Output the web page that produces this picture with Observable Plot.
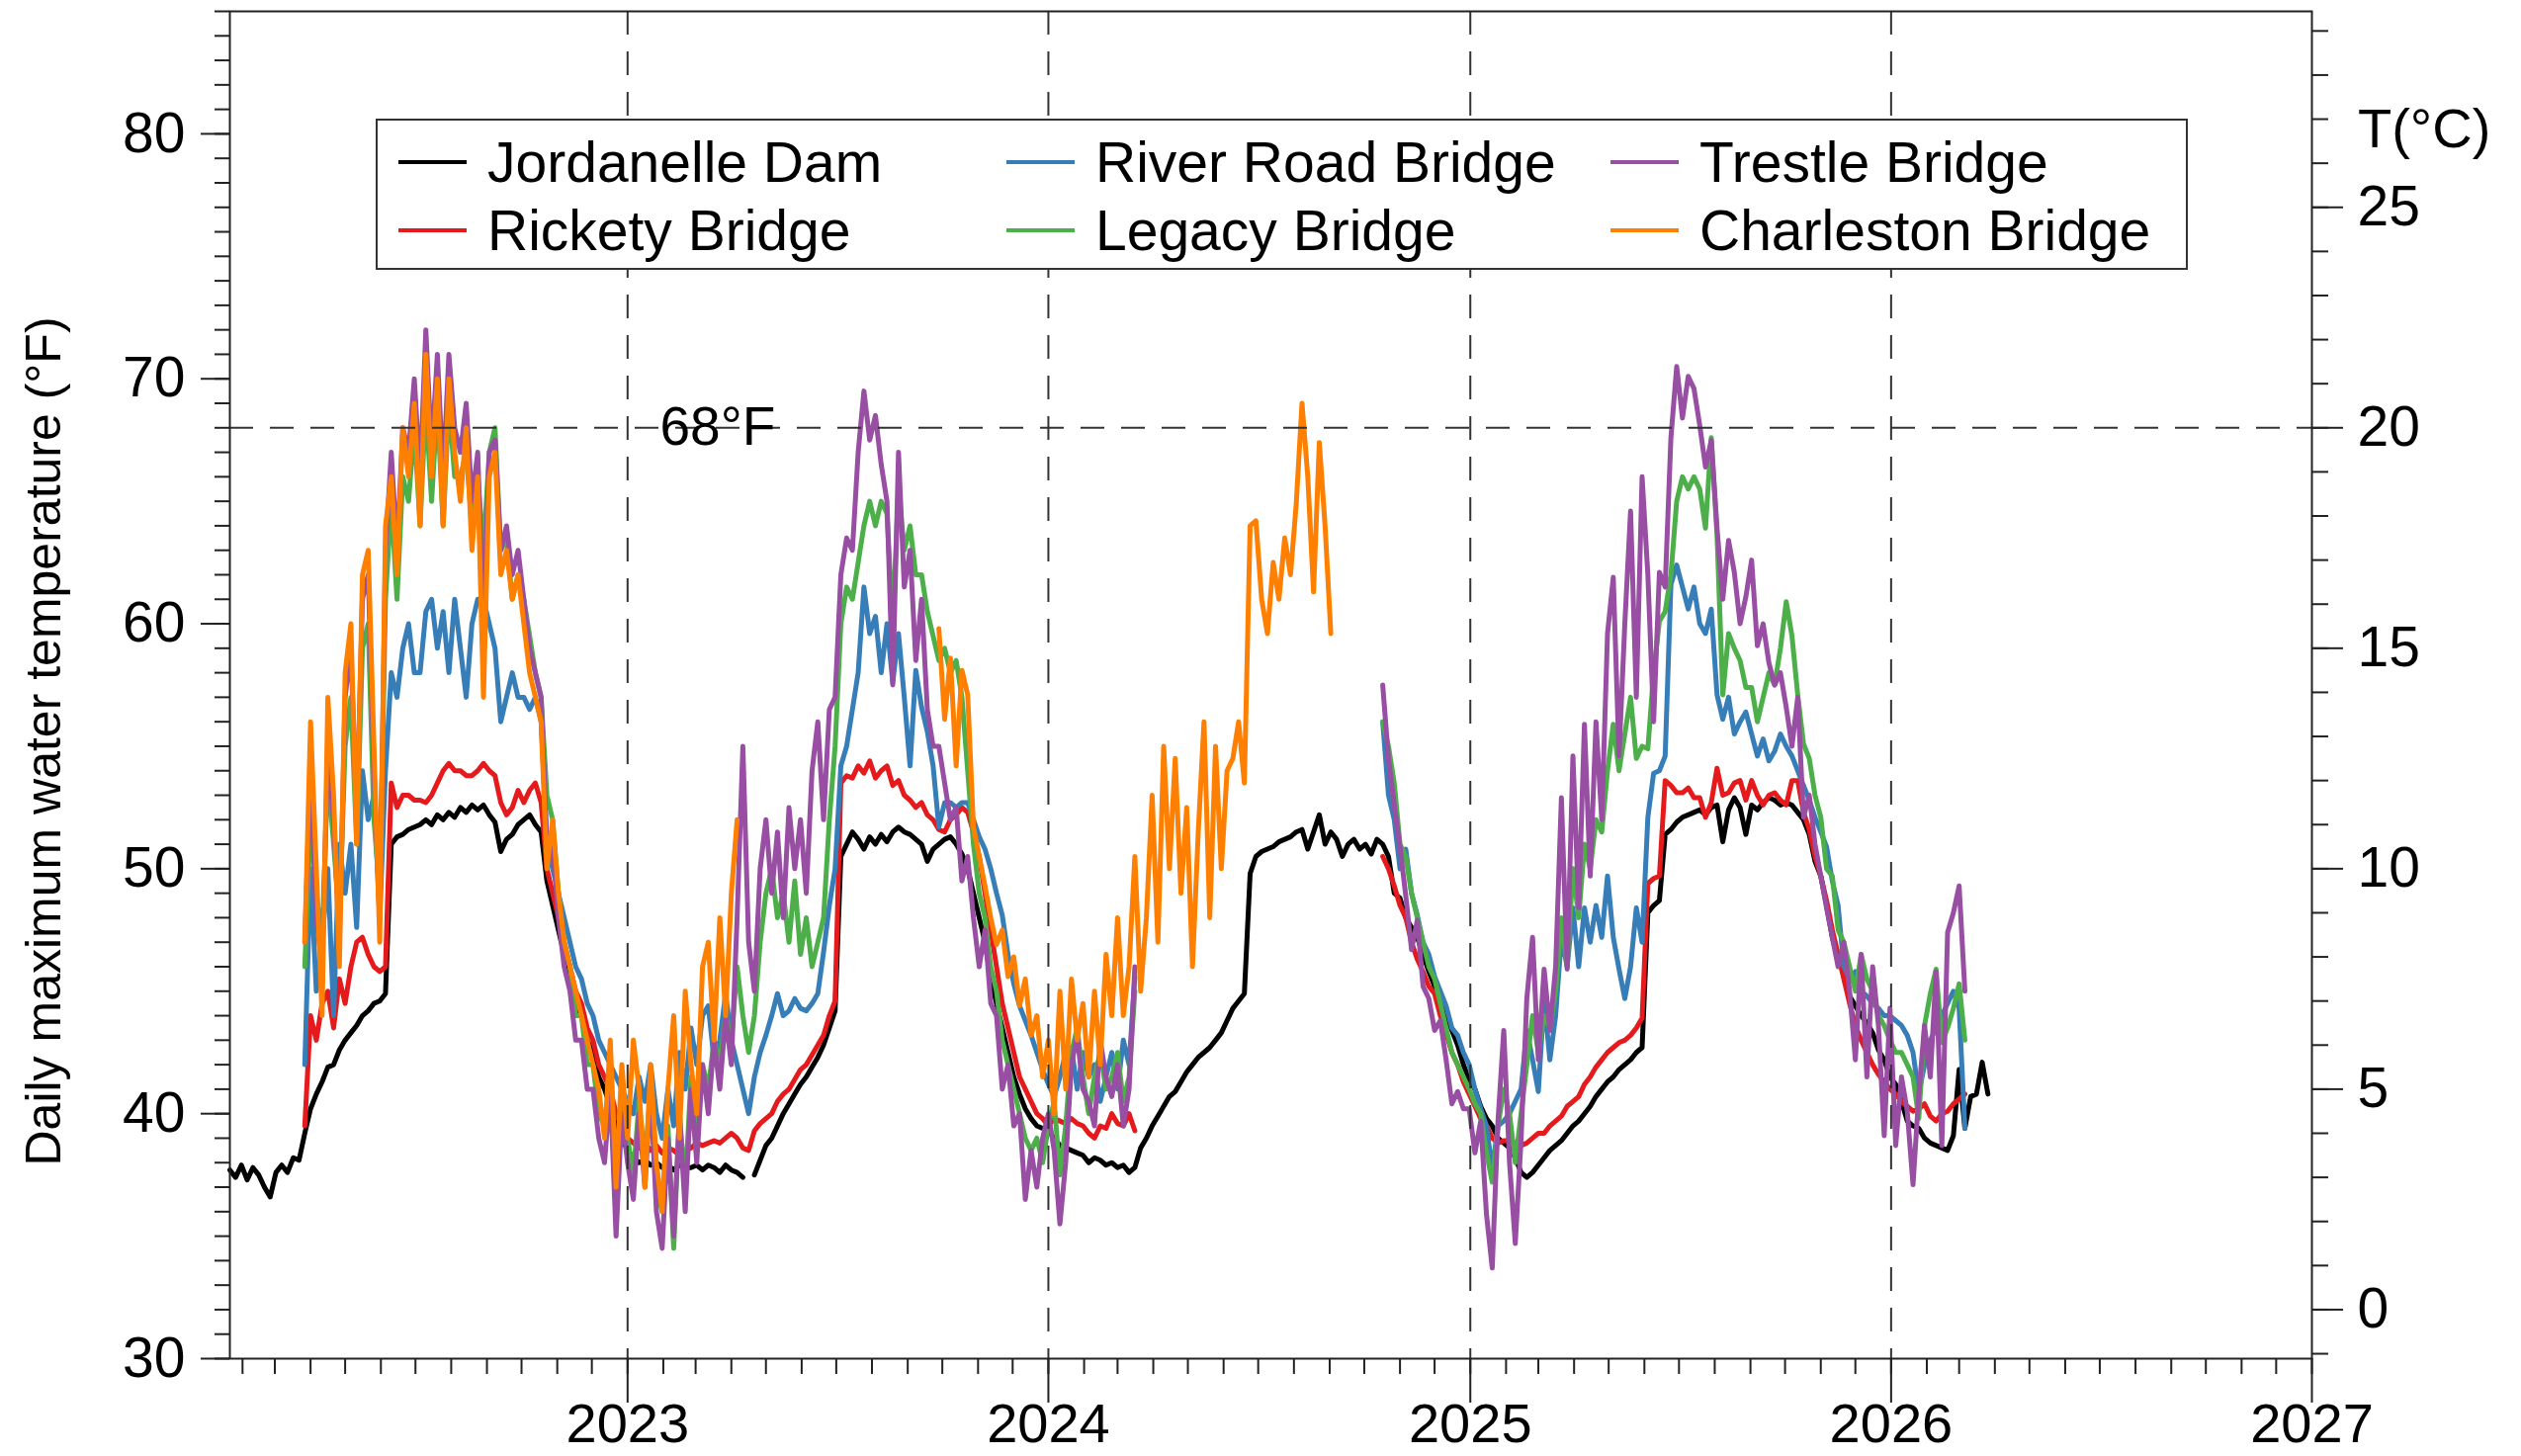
<!DOCTYPE html>
<html>
<head>
<meta charset="utf-8">
<script src="https://cdn.jsdelivr.net/npm/d3@7"></script>
<script src="https://cdn.jsdelivr.net/npm/@observablehq/plot@0.6"></script>
<style>
html,body{margin:0;padding:0;background:#fff;}
#wrap{position:relative;width:2550px;height:1473px;font-family:"Liberation Sans",Arial,Helvetica,sans-serif;color:#000;overflow:hidden;}
#wrap svg{position:absolute;left:0;top:0;}
.ytitle{position:absolute;left:44px;top:750px;transform:translate(-50%,-50%) rotate(-90deg);font-size:50px;white-space:nowrap;line-height:1;}
.ctitle{position:absolute;left:2385px;top:130px;transform:translateY(-50%);font-size:56px;line-height:1;white-space:nowrap;}
.legend{position:absolute;left:380px;top:120px;width:1829px;height:149px;border:2px solid #333;background:#fff;}
.item{position:absolute;display:flex;align-items:center;height:60px;font-size:57px;white-space:nowrap;line-height:1;}
.sw{width:69px;height:4px;margin-right:21px;}
</style>
</head>
<body>
<div id="wrap"></div>
<script>
// ---------------- DATA ----------------
const names = ["Jordanelle Dam", "Rickety Bridge", "River Road Bridge", "Legacy Bridge", "Trestle Bridge", "Charleston Bridge"];
const colors = ["#000000", "#e41a1c", "#377eb8", "#4daf4a", "#984ea3", "#ff7f00"];
const stepDays = 5; // one reading every 5 days within each segment

// Jordanelle Dam (°F)
const jordanelle1Start = "2022-01-21";
const jordanelle1 = [37.7,37.4,37.9,37.3,37.8,37.5,37.0,36.6,37.6,37.9,
 37.6,38.2,38.1,39.2,40.2,40.8,41.3,41.9,42.0,42.6,
 43.0,43.3,43.6,44.0,44.2,44.5,44.6,44.9,51.0,51.3,
 51.4,51.6,51.7,51.8,52.0,51.8,52.2,52.0,52.3,52.1,
 52.5,52.3,52.6,52.4,52.6,52.2,51.9,50.7,51.2,51.4,
 51.8,52.0,52.2,51.8,51.5,49.5,48.5,47.5,46.5,45.5,
 44.5,44.0,43.0,42.5,41.5,41.0,40.3,39.6,39.0,38.5,
 38.2,38.0,38.1,37.9,38.0,37.8,37.9,37.7,37.9,37.8,
 37.8,37.9,37.7,37.9,37.8,37.6,37.9,37.7,37.6,37.4];
const jordanelle2Start = "2023-04-21";
const jordanelle2 = [37.5,38.1,38.7,39.0,39.5,40.0,40.4,40.8,41.2,41.5,
 41.9,42.3,42.8,43.5,44.2,50.5,51.0,51.5,51.2,50.8,
 51.3,51.0,51.4,51.1,51.5,51.7,51.5,51.4,51.2,51.0,
 50.3,50.8,51.0,51.2,51.3,51.0,50.6,50.0,49.0,48.0,
 47.0,45.5,44.5,43.5,42.5,41.5,40.8,40.2,39.8,39.5,
 39.4,39.3,39.0,38.7,38.6,38.5,38.4,38.3,38.0,38.2,
 38.1,37.9,38.0,37.8,37.9,37.6,37.8,38.6,39.0,39.5,
 39.9,40.3,40.7,40.9,41.3,41.7,42.0,42.3,42.5,42.7,
 43.0,43.3,43.8,44.3,44.6,44.9,49.8,50.5,50.7,50.8,
 50.9,51.1,51.2,51.3,51.5,51.6,50.8,51.5,52.2,51.0,
 51.5,51.2,50.5,51.0,51.2,50.8,51.0,50.6,51.2,51.0,
 50.5,49.0,48.8,48.0,47.6,47.2,46.5,45.8,45.2,44.6,
 44.0,43.4,42.8,42.0,41.4,41.0,40.3,39.8,39.5,39.0,
 38.8,38.6,38.2,37.6,37.4,37.6,37.9,38.2,38.5,38.7,
 38.9,39.2,39.5,39.7,40.0,40.3,40.7,41.0,41.3,41.5,
 41.8,42.0,42.2,42.5,42.7,48.2,48.5,48.7,51.4,51.6,
 51.9,52.1,52.2,52.3,52.4,52.2,52.5,52.6,51.1,52.4,
 52.9,52.5,51.4,52.6,52.4,52.7,52.9,52.8,52.6,52.7,
 52.6,52.3,52.0,51.4,50.3,49.7,48.5,47.2,46.3,45.9,
 44.8,44.4,44.0,43.7,43.3,42.6,42.2,41.5,41.2,40.5,
 39.7,39.5,39.4,39.0,38.8,38.7,38.6,38.5,39.1,41.8,
 39.4,40.7,40.8,42.1,40.8];

// Rickety Bridge
const rickety1Start = "2022-03-27";
const rickety1 = [39.5,44.0,43.0,44.5,45.0,43.5,45.5,44.5,46.0,47.0,
 47.2,46.5,46.0,45.8,46.0,53.5,52.5,53.0,53.0,52.8,
 52.8,52.7,53.0,53.5,54.0,54.3,54.0,54.0,53.8,53.8,
 54.0,54.3,54.0,53.8,52.7,52.2,52.5,53.2,52.7,53.2,
 53.5,52.7,50.0,49.0,48.0,47.0,46.0,45.0,44.5,43.5,
 43.0,42.0,41.5,41.0,40.0,39.5,39.0,38.8,38.6,38.8,
 38.5,38.7,38.4,38.6,38.5,38.3,38.5,38.6,38.8,38.7,
 38.8,38.9,38.8,39.0,39.2,39.0,38.6,38.5,39.3,39.6,
 39.8,40.0,40.5,40.8,41.0,41.4,41.8,42.0,42.4,42.8,
 43.2,44.0,44.6,53.5,53.8,53.7,54.2,53.9,54.4,53.7,
 54.0,54.2,53.4,53.6,53.0,52.8,52.5,52.7,52.2,52.0,
 51.6,51.5,52.0,52.2,52.5,52.3,51.5,50.5,49.0,47.5,
 46.0,44.5,43.5,42.5,41.5,41.0,40.5,40.0,39.8,39.5,
 39.8,39.7,39.6,39.8,39.6,39.5,39.2,39.0,39.5,39.4,
 40.0,39.6,39.5,40.0,39.3];
const rickety2Start = "2024-10-17";
const rickety2 = [50.5,50.0,49.3,48.5,48.0,47.0,46.3,45.8,45.2,44.9,
 44.0,43.3,42.5,42.0,41.3,40.8,40.3,39.8,39.5,39.0,
 38.8,38.9,38.9,38.8,38.7,38.8,39.0,39.2,39.2,39.5,
 39.7,39.9,40.3,40.5,40.7,41.2,41.5,41.9,42.2,42.5,
 42.7,42.9,43.0,43.2,43.5,43.9,49.4,49.6,49.7,53.6,
 53.4,53.1,53.1,53.3,52.9,52.9,52.1,52.7,54.1,53.0,
 53.1,53.5,53.6,52.8,53.6,53.0,52.6,53.0,53.1,52.8,
 52.6,53.6,53.6,52.3,51.6,50.5,49.7,48.7,47.5,46.5,
 45.5,44.5,43.6,43.0,42.5,42.0,41.6,41.3,41.0,40.8,
 40.5,40.3,40.1,40.2,40.4,39.9,39.7,40.0,40.1,40.4,
 40.6,40.8];

// River Road Bridge
const riverRoad1Start = "2022-03-27";
const riverRoad1 = [42,50,45,47,50,44,51,49,51,47.6,
 54,52,53,48,54,58,57,59,60,58,
 58,60.5,61,59,60.5,58,61,59,57,60,
 61,61,60,59,56,57,58,57,57,56.5,
 57,56,51,50,49,48,47,46,45.5,44.5,
 44,43,42.5,42,41.5,41,40.5,40,41.5,40.5,
 42,40,39,41,39.5,42.5,41,43.5,42,44,
 44.4,42.2,43,44.9,43,42,41,40,41.5,42.5,
 43.2,44,44.9,44,44.2,44.7,44.3,44.2,44.5,44.9,
 46.6,48.5,50,54.2,55,56.5,58,61.5,59.6,60.3,
 58,60,57.6,59.6,57,54.2,58.1,56.6,55.6,54.2,
 51.7,52.7,52.7,52.5,52.7,52.7,52,51.3,50.8,50,
 49,48.1,46.5,45.3,44.4,43.8,43.2,42.5,41.8,41.2,
 40.7,41.5,42.5,42.7,41,42.5,41.5,42,40.5,41.5,
 42.5,41,43,42,45.6];
const riverRoad2Start = "2024-10-17";
const riverRoad2 = [56,53,52,50,50.8,49,48.1,47,46.5,45.6,
 45,44.4,43.5,43.2,42.5,42,41,40.2,39.5,37.7,
 39.5,39.7,40,40.5,41,43.4,42.2,40.9,44.7,42.2,
 44,47.2,46,48.4,46,48.4,47,48.5,47.2,49.7,
 47.2,45.9,44.7,46,48.4,47,52.1,53.9,54,54.6,
 61.6,62.4,61.5,60.6,61.5,60,59.6,60.6,57.1,56.1,
 57,55.5,56,56.4,55.5,54.6,55.3,54.4,54.8,55.5,
 55,54.6,54,53.4,52.8,52.1,51.5,50.9,49.5,48.5,
 46,45.5,45.8,45,44.8,44.5,44.3,44,44,43.8,
 43.6,43.2,42.5,40.8,42,43,43.5,44,44.5,45,
 44.3,39.4];

// Legacy Bridge
const legacy1Start = "2022-03-27";
const legacy1 = [46,52,49,47,54,51,48,55,57,51,
 59,60,52,49,61,65,61,66,65,68,
 64,69,65,69,64,69,66,66,67,64,
 66,63,67,68,63,63.5,61,62,61,59.5,
 58,57,53,52,49,47,46,44,44,42,
 42,40,39.5,41.5,37,40.5,39,37.5,40.5,38,
 41,37,36,39.5,34.5,40,37,41.5,39,42,
 41,43,42,44,43,46,44,42.5,44,47,
 49,50,48,49,47,49.5,46.5,48,46,47,
 48,52,55,60,61.5,61,62.5,64,65,64,
 65,64.5,60,65.5,63,64,62,62,60.5,59.5,
 58.5,59,58,58.5,57,54,51,49,48,46,
 45,43,42,41,40,39,38.5,39,38,39.5,
 40.5,37.5,39.5,42.5,43.5,41.5,40,41.5,42.5,41,
 41.5,42.5,40.5,41.5,45];
const legacy2Start = "2024-10-17";
const legacy2 = [56,55,53.5,51,50.5,49,48,47,46,45.5,
 44.5,43.5,42.5,42,41.5,41,40.4,40,38.4,37.2,
 39.5,41,40,38,40,42,44,42.5,44,43.5,
 45,48,46,50,48,51,50,52,51.5,54,
 55.9,54,55.5,57,54.5,55,54.9,58,60.1,60.5,
 62,65,66,65.5,66,65.5,63.9,67.6,63.6,57.1,
 59.6,59,58.5,57.4,57.4,56,57,58,57.5,59,
 60.9,59.5,57.1,55.1,54.5,53,52.1,50,49.7,47.5,
 47,46,45,46.5,45.5,45,44,43.6,43,42.5,
 42.5,42,41.5,39.8,43.6,44.9,45.9,42.9,43.5,44.3,
 45.3,43];

// Trestle Bridge
const trestle1Start = "2022-03-27";
const trestle1 = [47,54,48,46,55,52,47,57,59,52,
 61,62,54,48,63,67,63,68,67,70,
 66,72,67,71,66,71,68,67,69,65,
 67,60,67,67.5,63,64,62,63,61,59,
 58,57,51,51,48,46,45,43,43,41,
 41,39,38,41,35,40,38,36.5,40,37,
 41,36,34.5,39,35,40,36,41,38,42,
 40,43,41,44,42,48,55,47,45,50,
 52,49,51.5,48,52.5,50,52,49,54,56,
 52,56.5,57,62,63.5,63,67,69.5,67.5,68.5,
 66.5,65,57.5,67,61.5,63,58.5,61,56.5,55,
 55,53.5,52,52.5,49.5,50.5,48,46,47.5,44.5,
 44,41,42,39.5,40,36.5,38.5,37,39,40,
 38.5,35.5,38,42,43.2,41,40.5,39.5,43,41.5,
 40.7,42,39.5,41,46];
const trestle2Start = "2024-10-17";
const trestle2 = [57.5,54.5,52.6,50.9,48.9,46.7,47.9,45.2,44.7,43.4,
 43.8,42.2,40.4,40.9,40.2,40.2,38.4,39.7,35.9,33.7,
 39.7,43.4,38,34.7,38.9,44.7,47.2,42.2,45.9,43.4,
 46,52.9,45.9,54.6,48.4,55.9,49.7,56,52,59.6,
 61.9,54.6,60,64.6,57,66,62,56,62.1,61.5,
 67.6,70.5,68.4,70.1,69.6,68.1,66.4,67.5,63.9,61,
 63.4,62.1,60,61.1,62.6,59.1,60,58.4,57.5,58,
 56.6,55,57,52.1,53,51,49.7,48.4,47.2,46,
 47,45,42.2,46.5,41.5,46,43.6,39.1,44.3,38.7,
 41.5,40.1,37.1,40.8,43.6,41.5,45.8,38.7,47.4,48.2,
 49.3,45];

// Charleston Bridge
const charleston1Start = "2022-03-27";
const charleston1 = [47,56,50,44,57,53,46,58,60,51,
 62,63,55,47,64,66,62,68,66,69,
 64,71,66,70,64,70,67,65,68,63,
 66,57,66,67,62,63,61,62,60,58,
 57,56,50,52,49,47,46,45,44,43,
 42,41,39,43,37,42,39,43,41,37,
 42,38,36,41,44,39,45,42,40,46,
 47,43,48,44,49,52];
const charleston2Start = "2023-09-28";
const charleston2 = [59.8,56.1,58.6,54.2,58.1,57.1,51.7,50.5,49.3,48,
 46.9,47.5,45.6,46.4,44.4,45.5,43.2,44,41.5,43,
 40,45,41,45.5,43,44.5,41.5,45,42,46.5,
 44,48,44,46,50.5,45,48,53,47,55,
 50,54.5,49,52.5,46,51.5,56,48,55,50,
 54,54.5,56,53.5,64,64.2,61,59.6,62.5,61,
 63.5,62,64.9,69,66,61.3,67.4,64,59.6];

// axis / reference values
const fMajorTicks = [30, 40, 50, 60, 70, 80];
const cMajorTicks = [0, 5, 10, 15, 20, 25];
const yearTicks = ["2023-01-01", "2024-01-01", "2025-01-01", "2026-01-01", "2027-01-01"];
const dashedYears = ["2023-01-01", "2024-01-01", "2025-01-01", "2026-01-01"];
const thresholdF = 68;
const thresholdLabel = [{date: "2023-01-29", value: 68, text: "68°F"}];

// ---------------- BUILD ----------------
const segments = [
  [names[0], jordanelle1Start, jordanelle1], [names[0], jordanelle2Start, jordanelle2],
  [names[1], rickety1Start, rickety1], [names[1], rickety2Start, rickety2],
  [names[2], riverRoad1Start, riverRoad1], [names[2], riverRoad2Start, riverRoad2],
  [names[3], legacy1Start, legacy1], [names[3], legacy2Start, legacy2],
  [names[4], trestle1Start, trestle1], [names[4], trestle2Start, trestle2],
  [names[5], charleston1Start, charleston1], [names[5], charleston2Start, charleston2]
];
const utc = s => new Date(s + "T00:00:00Z");
const rows = [];
segments.forEach(([name, start, vals], k) => {
  const t0 = utc(start);
  vals.forEach((v, i) => rows.push({series: name, seg: k, date: d3.utcDay.offset(t0, i * stepDays), value: v}));
});

const toF = c => c * 1.8 + 32;
const fMinor = d3.range(30, 85.01, 1);
const cMinorF = d3.range(-1, 30, 1).map(toF).filter(f => f >= 30 && f <= 85);
const cMajorF = cMajorTicks.map(toF);
const months = d3.utcMonth.range(utc("2022-02-01"), utc("2027-01-02"));
const years = yearTicks.map(utc);

const font = '"Liberation Sans", Arial, Helvetica, sans-serif';
const axisStroke = "#222";

const plot = Plot.plot({
  width: 2550,
  height: 1473,
  marginLeft: 232,
  marginRight: 212,
  marginTop: 11,
  marginBottom: 99,
  style: {fontFamily: font, fontSize: "57px", color: "#000", background: "transparent", overflow: "visible"},
  x: {type: "utc", domain: [utc("2022-01-21"), utc("2027-01-01")], axis: null},
  y: {domain: [30, 85], axis: null},
  color: {domain: names, range: colors},
  marks: [
    Plot.line(rows, {x: "date", y: "value", z: "seg", stroke: "series", strokeWidth: 5, strokeLinejoin: "round", strokeLinecap: "round"}),
    Plot.ruleX(dashedYears.map(utc), {stroke: "#333", strokeWidth: 2, strokeDasharray: "24,17"}),
    Plot.ruleY([thresholdF], {stroke: "#333", strokeWidth: 2, strokeDasharray: "24,17"}),
    Plot.text(thresholdLabel, {x: d => utc(d.date), y: "value", text: "text", textAnchor: "start", fontSize: 55, fill: "#000"}),
    Plot.frame({stroke: axisStroke, strokeWidth: 2}),
    Plot.axisY({anchor: "left", ticks: fMinor, tickSize: 15, tickFormat: () => "", label: null, stroke: axisStroke, strokeWidth: 2}),
    Plot.axisY({anchor: "left", ticks: fMajorTicks, tickSize: 29, tickPadding: 16, label: null, stroke: axisStroke, strokeWidth: 2, fontSize: 57}),
    Plot.axisY({anchor: "right", ticks: cMinorF, tickSize: 16, tickFormat: () => "", label: null, stroke: axisStroke, strokeWidth: 2}),
    Plot.axisY({anchor: "right", ticks: cMajorF, tickSize: 31, tickPadding: 15, tickFormat: f => String(Math.round((f - 32) / 1.8)), label: null, stroke: axisStroke, strokeWidth: 2, fontSize: 57}),
    Plot.axisX({anchor: "bottom", ticks: months, tickSize: 16, tickFormat: () => "", label: null, stroke: axisStroke, strokeWidth: 2}),
    Plot.axisX({anchor: "bottom", ticks: years, tickSize: 45, tickPadding: 0, tickFormat: d3.utcFormat("%Y"), label: null, stroke: axisStroke, strokeWidth: 2, fontSize: 56})
  ]
});

const wrap = document.getElementById("wrap");
wrap.appendChild(plot);

// axis titles
const yt = document.createElement("div");
yt.className = "ytitle";
yt.textContent = "Daily maximum water temperature (°F)";
wrap.appendChild(yt);
const ct = document.createElement("div");
ct.className = "ctitle";
ct.textContent = "T(°C)";
wrap.appendChild(ct);

// legend (3 columns x 2 rows)
const legend = document.createElement("div");
legend.className = "legend";
const colLeft = [21, 636, 1247];
const rowTop = [12, 81];
names.forEach((n, i) => {
  const col = Math.floor(i / 2), row = i % 2;
  const it = document.createElement("div");
  it.className = "item";
  it.style.left = colLeft[col] + "px";
  it.style.top = rowTop[row] + "px";
  const sw = document.createElement("span");
  sw.className = "sw";
  sw.style.background = colors[i];
  const tx = document.createElement("span");
  tx.textContent = n;
  it.appendChild(sw);
  it.appendChild(tx);
  legend.appendChild(it);
});
wrap.appendChild(legend);
</script>
</body>
</html>
